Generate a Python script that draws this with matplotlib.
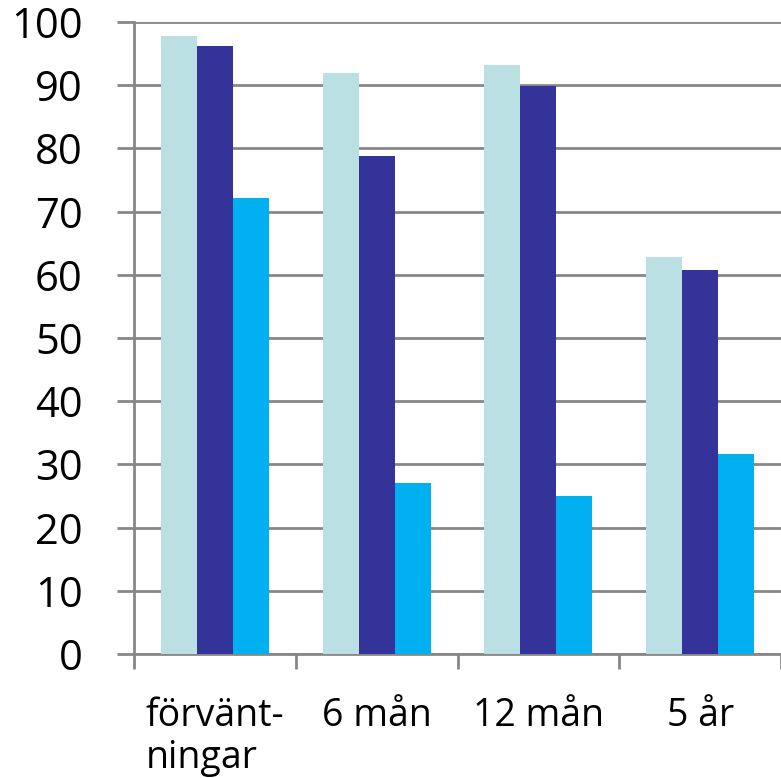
import numpy as np
import matplotlib.pyplot as plt

categories = ['förvänt-\nningar', '6 mån', '12 mån', '5 år']
serie_a = [97.8, 91.9, 93.2, 62.8]
serie_b = [96.2, 78.8, 89.9, 60.8]
serie_c = [72.2, 27.1, 25.0, 31.6]
colors = ['#BAE0E3', '#333399', '#00B0F0']

plt.rcParams['font.family'] = ['Open Sans', 'DejaVu Sans']

fig = plt.figure(figsize=(7.81, 7.78), dpi=100)
ax = fig.add_axes([0.1716, 0.1594, 0.8284, 0.8123])

x = np.arange(len(categories)) + 0.5
w = 0.223
for i, vals in enumerate([serie_a, serie_b, serie_c]):
    ax.bar(x + (i - 1) * w, vals, width=w, color=colors[i], zorder=3)

ax.set_xlim(0, 4)
ax.set_ylim(0, 100)
ax.set_yticks(range(0, 101, 10))
ax.yaxis.grid(True, color='#878787', linewidth=2, zorder=0)
ax.tick_params(axis='y', labelsize=30, length=12, width=2, color='#878787', pad=25)

ax.set_xticks(range(0, 5))
ax.set_xticklabels([])
ax.set_xticks(x, minor=True)
ax.set_xticklabels(categories, minor=True, fontsize=27, multialignment='left',
                   linespacing=1.15)
ax.tick_params(axis='x', which='major', length=11, width=2, color='#878787')
ax.tick_params(axis='x', which='minor', length=0, pad=31)

for s in ['top', 'right']:
    ax.spines[s].set_visible(False)
for s in ['left', 'bottom']:
    ax.spines[s].set_color('#878787')
    ax.spines[s].set_linewidth(2)

fig.savefig('out.png', dpi=100)
